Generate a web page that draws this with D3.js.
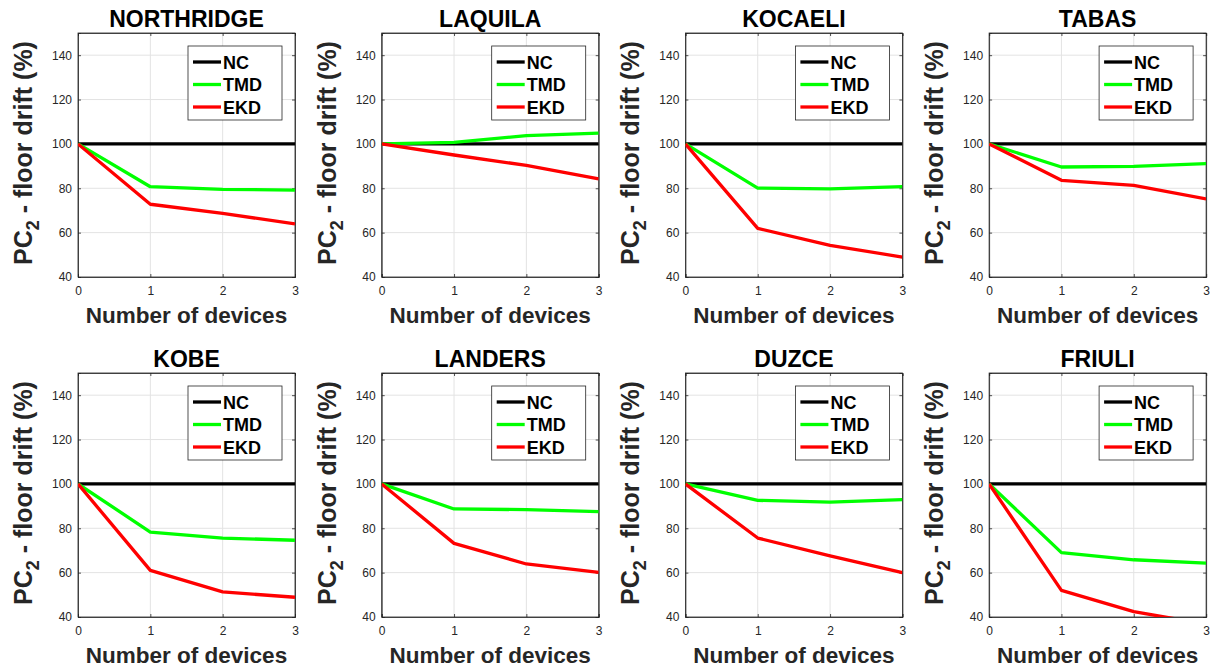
<!DOCTYPE html>
<html>
<head>
<meta charset="utf-8">
<script src="https://cdn.jsdelivr.net/npm/d3@7/dist/d3.min.js"></script>
<style>
  html, body { margin: 0; padding: 0; background: #fff; }
  svg { display: block; font-family: Arial, "Liberation Sans", Helvetica, sans-serif; }
</style>
</head>
<body>
<svg id="chart" width="1214" height="668"></svg>
<script>
// Earthquake records, one panel each
const events = ["NORTHRIDGE", "LAQUILA", "KOCAELI", "TABAS", "KOBE", "LANDERS", "DUZCE", "FRIULI"];
const devices = [0, 1, 2, 3];
const seriesNames = ["NC", "TMD", "EKD"];

// PC2 floor drift (%) relative to the uncontrolled structure
const ncValues = [
  [100, 100, 100, 100], [100, 100, 100, 100], [100, 100, 100, 100], [100, 100, 100, 100],
  [100, 100, 100, 100], [100, 100, 100, 100], [100, 100, 100, 100], [100, 100, 100, 100]
];
const tmdValues = [
  [100, 80.7, 79.5, 79.2],
  [100, 100.7, 103.7, 104.9],
  [100, 80.1, 79.7, 80.7],
  [100, 89.6, 89.9, 91.1],
  [100, 78.3, 75.6, 74.6],
  [100, 88.7, 88.4, 87.5],
  [100, 92.6, 91.8, 92.9],
  [100, 69.0, 65.8, 64.3]
];
const ekdValues = [
  [100, 72.8, 68.7, 63.9],
  [100, 95.0, 90.3, 84.2],
  [100, 61.9, 54.3, 49.0],
  [100, 83.6, 81.3, 75.2],
  [100, 61.0, 51.3, 48.9],
  [100, 73.2, 63.9, 60.1],
  [100, 75.6, 67.6, 60.0],
  [100, 52.0, 42.4, 36.8]
];
const xTicks = [0, 1, 2, 3];
const yTicks = [40, 60, 80, 100, 120, 140];
const yDomain = [40, 150];

const colors = { NC: "#000000", TMD: "#00ff00", EKD: "#ff0000" };
const valuesBySeries = { NC: ncValues, TMD: tmdValues, EKD: ekdValues };

const svg = d3.select("#chart");
const axisColor = "#262626";

// grid layout of the 2 x 4 panels
const panelW = 217, panelH = 244;
const firstLeft = 78, colStep = 303.7;
const rowTops = [33, 373];

const x = d3.scaleLinear().domain([0, 3]).range([0, panelW]);
const y = d3.scaleLinear().domain(yDomain).range([panelH, 0]);
const line = d3.line().x((d, i) => x(devices[i])).y(d => y(d));

events.forEach((name, k) => {
  const col = k % 4, row = Math.floor(k / 4);
  const left = firstLeft + col * colStep;
  const top = rowTops[row];
  const g = svg.append("g").attr("transform", `translate(${left},${top})`);

  const clipId = "clip" + k;
  g.append("clipPath").attr("id", clipId)
    .append("rect").attr("width", panelW).attr("height", panelH);

  // grid
  g.append("g").selectAll("line.gx").data(xTicks.slice(1, -1)).join("line")
    .attr("x1", d => x(d)).attr("x2", d => x(d))
    .attr("y1", 0).attr("y2", panelH)
    .attr("stroke", "#e3e3e3").attr("stroke-width", 1);
  g.append("g").selectAll("line.gy").data(yTicks.slice(1)).join("line")
    .attr("x1", 0).attr("x2", panelW)
    .attr("y1", d => y(d)).attr("y2", d => y(d))
    .attr("stroke", "#e3e3e3").attr("stroke-width", 1);

  // axes with inward ticks
  const xAxis = d3.axisBottom(x).tickValues(xTicks).tickSize(-3).tickPadding(9).tickFormat(d3.format("d"));
  const yAxis = d3.axisLeft(y).tickValues(yTicks).tickSize(-3).tickPadding(6).tickFormat(d3.format("d"));
  const xa = g.append("g").attr("transform", `translate(0,${panelH})`).call(xAxis);
  const ya = g.append("g").call(yAxis);
  const xt = g.append("g").call(d3.axisTop(x).tickValues(xTicks).tickSize(-3).tickFormat(""));
  const yr = g.append("g").attr("transform", `translate(${panelW},0)`).call(d3.axisRight(y).tickValues(yTicks).tickSize(-3).tickFormat(""));
  [xa, ya, xt, yr].forEach(a => {
    a.select(".domain").attr("stroke", axisColor).attr("stroke-width", 0.8);
    a.selectAll(".tick line").attr("stroke", axisColor).attr("stroke-width", 0.8);
    a.selectAll(".tick text").attr("fill", axisColor).style("font-size", "12px")
      .style("font-family", "Arial, 'Liberation Sans', Helvetica, sans-serif");
  });
  // close the box
  g.append("rect").attr("width", panelW).attr("height", panelH)
    .attr("fill", "none").attr("stroke", axisColor).attr("stroke-width", 0.8);

  // series lines
  const plot = g.append("g").attr("clip-path", `url(#${clipId})`);
  seriesNames.forEach(s => {
    plot.append("path").datum(valuesBySeries[s][k])
      .attr("d", line)
      .attr("fill", "none")
      .attr("stroke", colors[s])
      .attr("stroke-width", 3.3)
      .attr("stroke-linejoin", "round");
  });

  // title
  g.append("text").attr("x", panelW / 2).attr("y", -6)
    .attr("text-anchor", "middle").attr("font-weight", "bold")
    .attr("font-size", 23).attr("fill", "#000").text(name);

  // x label
  g.append("text").attr("x", panelW / 2).attr("y", panelH + 46)
    .attr("text-anchor", "middle").attr("font-weight", "bold")
    .attr("font-size", 22.5).attr("fill", axisColor).text("Number of devices");

  // y label with subscript
  const yl = g.append("text")
    .attr("transform", `translate(${-46},${panelH / 2 - 2}) rotate(-90)`)
    .attr("text-anchor", "middle").attr("font-weight", "bold")
    .attr("font-size", 25).attr("fill", axisColor);
  yl.append("tspan").text("PC");
  yl.append("tspan").attr("font-size", 18).attr("dy", 7).text("2");
  yl.append("tspan").attr("dy", -7).text(" - floor drift (%)");

  // legend
  const lg = g.append("g").attr("transform", `translate(${panelW - 107},13)`);
  lg.append("rect").attr("width", 94).attr("height", 74)
    .attr("fill", "#fff").attr("stroke", axisColor).attr("stroke-width", 0.8);
  seriesNames.forEach((s, i) => {
    const cy = 16 + i * 22.5;
    lg.append("line").attr("x1", 5).attr("x2", 33).attr("y1", cy).attr("y2", cy)
      .attr("stroke", colors[s]).attr("stroke-width", 3.3);
    lg.append("text").attr("x", 35).attr("y", cy + 6.5)
      .attr("font-weight", "bold").attr("font-size", 18).attr("fill", "#000").text(s);
  });
});
</script>
</body>
</html>
